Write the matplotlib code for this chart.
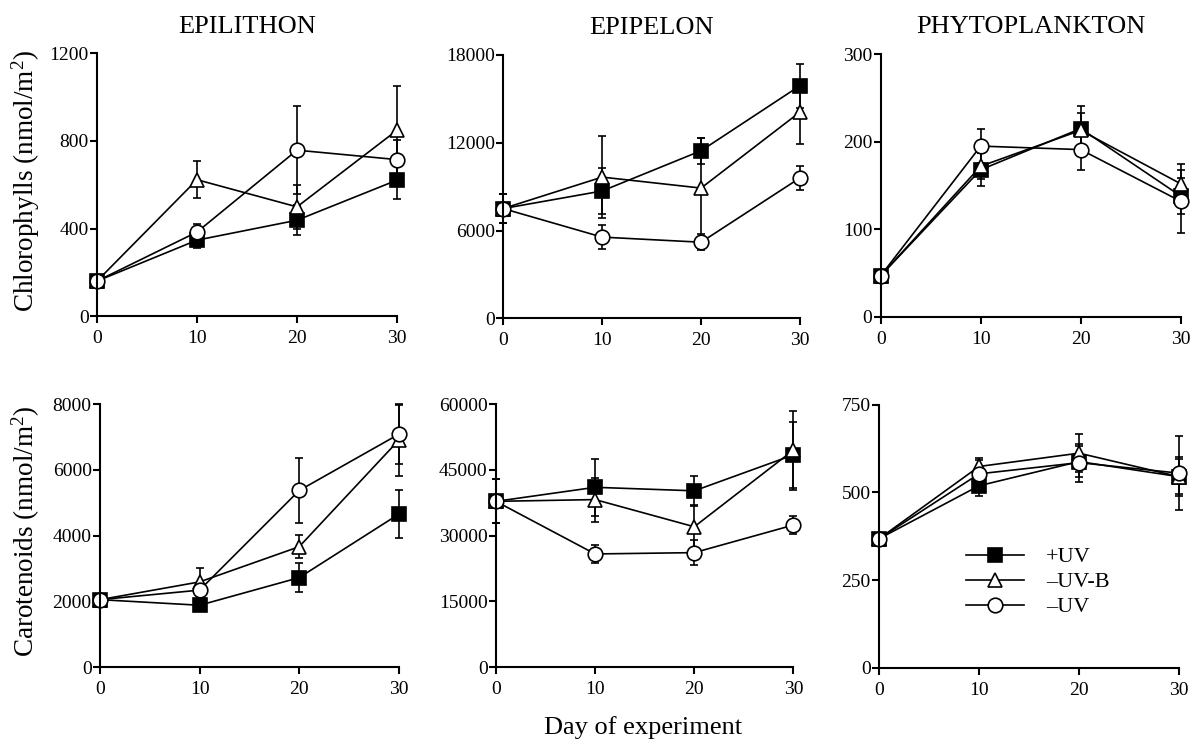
import matplotlib
matplotlib.use('Agg')
import matplotlib.pyplot as plt
from matplotlib.lines import Line2D

plt.rcParams['font.family'] = 'Liberation Serif'
plt.rcParams['mathtext.fontset'] = 'custom'
plt.rcParams['mathtext.rm'] = 'Liberation Serif'

days = [0, 10, 20, 30]
labels = ['+UV', '\u2013UV-B', '\u2013UV']

# chlorophylls
epil_chl_uv = [160, 347, 438, 621]
epil_chl_uvb = [160, 623, 499, 849]
epil_chl_nouv = [160, 384, 758, 715]
epil_chl_uv_err = [15, 35, 68, 85]
epil_chl_uvb_err = [15, 85, 100, 200]
epil_chl_nouv_err = [15, 35, 200, 90]

epip_chl_uv = [7500, 8700, 11450, 15900]
epip_chl_uvb = [7500, 9650, 8900, 14100]
epip_chl_nouv = [7500, 5550, 5200, 9600]
epip_chl_uv_err = [1000, 1600, 900, 1500]
epip_chl_uvb_err = [1000, 2800, 3400, 2200]
epip_chl_nouv_err = [1000, 800, 550, 800]

phyto_chl_uv = [47, 168, 215, 138]
phyto_chl_uvb = [47, 172, 213, 152]
phyto_chl_nouv = [47, 195, 191, 132]
phyto_chl_uv_err = [4, 19, 26, 20]
phyto_chl_uvb_err = [4, 15, 20, 23]
phyto_chl_nouv_err = [4, 19, 23, 36]

# carotenoids
epil_car_uv = [2050, 1880, 2720, 4650]
epil_car_uvb = [2050, 2590, 3660, 6900]
epil_car_nouv = [2050, 2340, 5370, 7080]
epil_car_uv_err = [80, 100, 450, 720]
epil_car_uvb_err = [80, 430, 350, 1100]
epil_car_nouv_err = [80, 200, 1000, 900]

epip_car_uv = [37800, 41000, 40200, 48400]
epip_car_uvb = [37800, 38200, 32000, 49500]
epip_car_nouv = [37800, 25800, 26100, 32400]
epip_car_uv_err = [5000, 6500, 3400, 7600]
epip_car_uvb_err = [5000, 5000, 5000, 9000]
epip_car_nouv_err = [5000, 2000, 2800, 2000]

phyto_car_uv = [368, 519, 588, 545]
phyto_car_uvb = [368, 574, 612, 545]
phyto_car_nouv = [368, 553, 585, 555]
phyto_car_uv_err = [15, 30, 45, 50]
phyto_car_uvb_err = [15, 25, 55, 55]
phyto_car_nouv_err = [15, 40, 54, 106]

panels = [
    ([0.0812, 0.574, 0.251, 0.354], 1200, [0, 400, 800, 1200], 'EPILITHON',
     (epil_chl_uv, epil_chl_uvb, epil_chl_nouv), (epil_chl_uv_err, epil_chl_uvb_err, epil_chl_nouv_err)),
    ([0.421, 0.571, 0.2485, 0.355], 18000, [0, 6000, 12000, 18000], 'EPIPELON',
     (epip_chl_uv, epip_chl_uvb, epip_chl_nouv), (epip_chl_uv_err, epip_chl_uvb_err, epip_chl_nouv_err)),
    ([0.737, 0.573, 0.251, 0.354], 300, [0, 100, 200, 300], 'PHYTOPLANKTON',
     (phyto_chl_uv, phyto_chl_uvb, phyto_chl_nouv), (phyto_chl_uv_err, phyto_chl_uvb_err, phyto_chl_nouv_err)),
    ([0.0837, 0.101, 0.250, 0.3545], 8000, [0, 2000, 4000, 6000, 8000], None,
     (epil_car_uv, epil_car_uvb, epil_car_nouv), (epil_car_uv_err, epil_car_uvb_err, epil_car_nouv_err)),
    ([0.415, 0.101, 0.249, 0.3545], 60000, [0, 15000, 30000, 45000, 60000], None,
     (epip_car_uv, epip_car_uvb, epip_car_nouv), (epip_car_uv_err, epip_car_uvb_err, epip_car_nouv_err)),
    ([0.7356, 0.1, 0.251, 0.3545], 750, [0, 250, 500, 750], None,
     (phyto_car_uv, phyto_car_uvb, phyto_car_nouv), (phyto_car_uv_err, phyto_car_uvb_err, phyto_car_nouv_err)),
]

styles = [
    dict(marker='s', markersize=9.5, markerfacecolor='black'),
    dict(marker='^', markersize=9.5, markerfacecolor='white'),
    dict(marker='o', markersize=10.5, markerfacecolor='white'),
]

fig = plt.figure(figsize=(11.95, 7.42), dpi=100)

axes = []
for rect, ytop, yticks, title, series, errs in panels:
    ax = fig.add_axes(rect)
    for vals, err, st, lab in zip(series, errs, styles, labels):
        ax.errorbar(days, vals, yerr=err, color='black', linewidth=1.2,
                    elinewidth=1.2, capsize=3, capthick=1.2,
                    markeredgecolor='black', markeredgewidth=1.2,
                    clip_on=False, **st)
    ax.set_xlim(0, 30)
    ax.set_ylim(0, ytop)
    ax.set_xticks(days)
    ax.set_yticks(yticks)
    for s in ['top', 'right']:
        ax.spines[s].set_visible(False)
    for s in ['left', 'bottom']:
        ax.spines[s].set_linewidth(1.5)
    ax.tick_params(axis='both', direction='out', length=5, width=1.5, labelsize=14)
    ax.tick_params(axis='y', pad=1)
    ax.tick_params(axis='x', pad=5)
    if title:
        ax.set_title(title, fontsize=19, pad=15)
    axes.append(ax)

# legend: line + marker only, no error bars
handles = [Line2D([], [], color='black', linewidth=1.2, markeredgecolor='black',
                  markeredgewidth=1.2, **st) for st in styles]
axes[5].legend(handles, labels, loc='upper left', bbox_to_anchor=(0.29, 0.46), frameon=False,
               fontsize=16, handlelength=2.6, handletextpad=1.0,
               labelspacing=0.2, borderpad=0, borderaxespad=0)

fig.text(26 / 1195, 1 - 181 / 742, r'Chlorophylls (nmol/m$\mathregular{^2}$)', rotation=90,
         ha='center', va='center', fontsize=19.5)
fig.text(26 / 1195, 1 - 531 / 742, r'Carotenoids (nmol/m$\mathregular{^2}$)', rotation=90,
         ha='center', va='center', fontsize=19.5)
fig.text(643 / 1195, 1 - 728 / 742, 'Day of experiment', ha='center', va='center', fontsize=19)

plt.savefig('out.png', dpi=100)
